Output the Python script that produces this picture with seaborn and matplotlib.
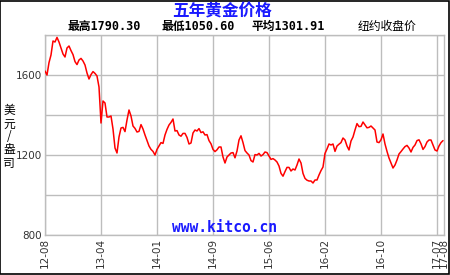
import numpy as np
import pandas as pd
import matplotlib
matplotlib.use("Agg")
import matplotlib.pyplot as plt
import seaborn as sns
from matplotlib.patches import Rectangle

# ---- data ----
title = "五年黄金价格"
stat_labels = ["最高1790.30", "最低1050.60", "平均1301.91"]
market_label = "纽约收盘价"
y_label = "美元/盎司"
watermark = "www.kitco.cn"

x_tick_labels = ["12-08", "13-04", "14-01", "14-09", "15-06", "16-02", "16-10", "17-07", "17-08"]
x_tick_index = [0, 28, 56, 84, 112, 140, 168, 196, 199.5]
y_ticks = [800, 1200, 1600]
y_grid = [800, 1000, 1200, 1400, 1600, 1800]

price = [
    1620, 1600, 1662, 1700, 1770, 1765, 1788, 1765, 1735, 1705,
    1690, 1735, 1745, 1722, 1702, 1667, 1652, 1675, 1683, 1670,
    1650, 1610, 1580, 1602, 1617, 1608, 1595, 1540, 1360, 1470,
    1460, 1390, 1390, 1395, 1330, 1235, 1210, 1290, 1335, 1338,
    1317, 1375, 1425, 1395, 1345, 1333, 1315, 1318, 1352, 1330,
    1300, 1272, 1245, 1228, 1218, 1200, 1228, 1245, 1262, 1258,
    1300, 1328, 1350, 1363, 1380, 1320, 1322, 1300, 1294, 1308,
    1308, 1288, 1255, 1260, 1310, 1325, 1320, 1332, 1312, 1316,
    1300, 1302, 1272, 1256, 1228, 1217, 1226, 1240, 1240, 1190,
    1160, 1190, 1200, 1210, 1212, 1186, 1220, 1275, 1296, 1262,
    1222, 1210, 1200, 1172, 1165, 1202, 1200, 1208, 1195, 1202,
    1215, 1212, 1195, 1178, 1182, 1175, 1165, 1145, 1108, 1094,
    1117, 1138, 1138, 1120, 1130, 1125, 1150, 1180, 1160, 1108,
    1083, 1074, 1070, 1070, 1060, 1075, 1075, 1100, 1122, 1140,
    1208, 1230, 1255, 1250, 1255, 1218, 1245, 1254, 1262, 1285,
    1275, 1245, 1225, 1270, 1290, 1325, 1357, 1342, 1343, 1365,
    1350, 1336, 1338, 1345, 1335, 1325, 1265, 1262, 1276, 1305,
    1255, 1218, 1185, 1160, 1135, 1150, 1175, 1205, 1217, 1230,
    1242, 1248, 1235, 1215, 1238, 1250, 1272, 1276, 1256, 1228,
    1242, 1265, 1275, 1275, 1250, 1225, 1220, 1245, 1262, 1272,
]

df = pd.DataFrame({"t": np.arange(len(price)), "price": price})

sns.set_theme(style="white")
plt.rcParams["font.family"] = ["Noto Sans CJK SC", "DejaVu Sans"]

fig = plt.figure(figsize=(4.5, 2.75), dpi=100)
fig.patch.set_facecolor("white")
ax = fig.add_axes([45 / 450, 40 / 275, 399 / 450, 200 / 275])

grid_c = "#bdbdbd"
for v in y_grid:
    ax.axhline(v, color=grid_c, lw=1.0, zorder=1)
for t in x_tick_index[:-1]:
    ax.axvline(t, color=grid_c, lw=1.0, zorder=1)

sns.lineplot(data=df, x="t", y="price", ax=ax, color="#ff0000", lw=1.1, zorder=3)

ax.set_xlim(0, 199.5)
ax.set_ylim(800, 1800)
ax.set_xticks(x_tick_index)
ax.set_xticklabels(x_tick_labels, rotation=90, fontsize=7.5, color="#333333",
                   family="DejaVu Sans")
ax.set_yticks(y_ticks)
ax.set_yticklabels([str(v) for v in y_ticks], fontsize=7.5, color="#333333",
                   family="DejaVu Sans")
ax.tick_params(axis="both", length=0, pad=2)
ax.set_xlabel("")
ax.set_ylabel("")
for s in ax.spines.values():
    s.set_color(grid_c)
    s.set_linewidth(1.0)

mixed = ["DejaVu Sans Mono", "Noto Sans CJK SC"]

# title and stats
fig.text(222 / 450, 1 - 11 / 275, title, ha="center", va="center",
         fontsize=12, fontweight="bold", color="#1a1aff")
stat_x = [68, 162, 251]
for sx, lab in zip(stat_x, stat_labels):
    fig.text(sx / 450, 1 - 26 / 275, lab, ha="left", va="center",
             fontsize=8.5, color="black", fontweight="bold", family=mixed)
fig.text(358 / 450, 1 - 26 / 275, market_label, ha="left", va="center",
         fontsize=8.5, color="black")

# y label stacked characters
fig.text(9 / 450, 1 - 137 / 275, "\n".join(list(y_label)), ha="center", va="center",
         fontsize=8.5, color="black", linespacing=1.0)

# watermark
fig.text(225 / 450, 1 - 228 / 275, watermark, ha="center", va="center",
         fontsize=10.5, color="#1a1aff", fontweight="bold",
         family="DejaVu Sans Mono")

# figure frame
fig.patches.append(Rectangle((0.001, 0.002), 0.997, 0.996, transform=fig.transFigure,
                             fill=False, edgecolor="black", lw=1.2))

fig.savefig("out.png", dpi=100, facecolor="white")
